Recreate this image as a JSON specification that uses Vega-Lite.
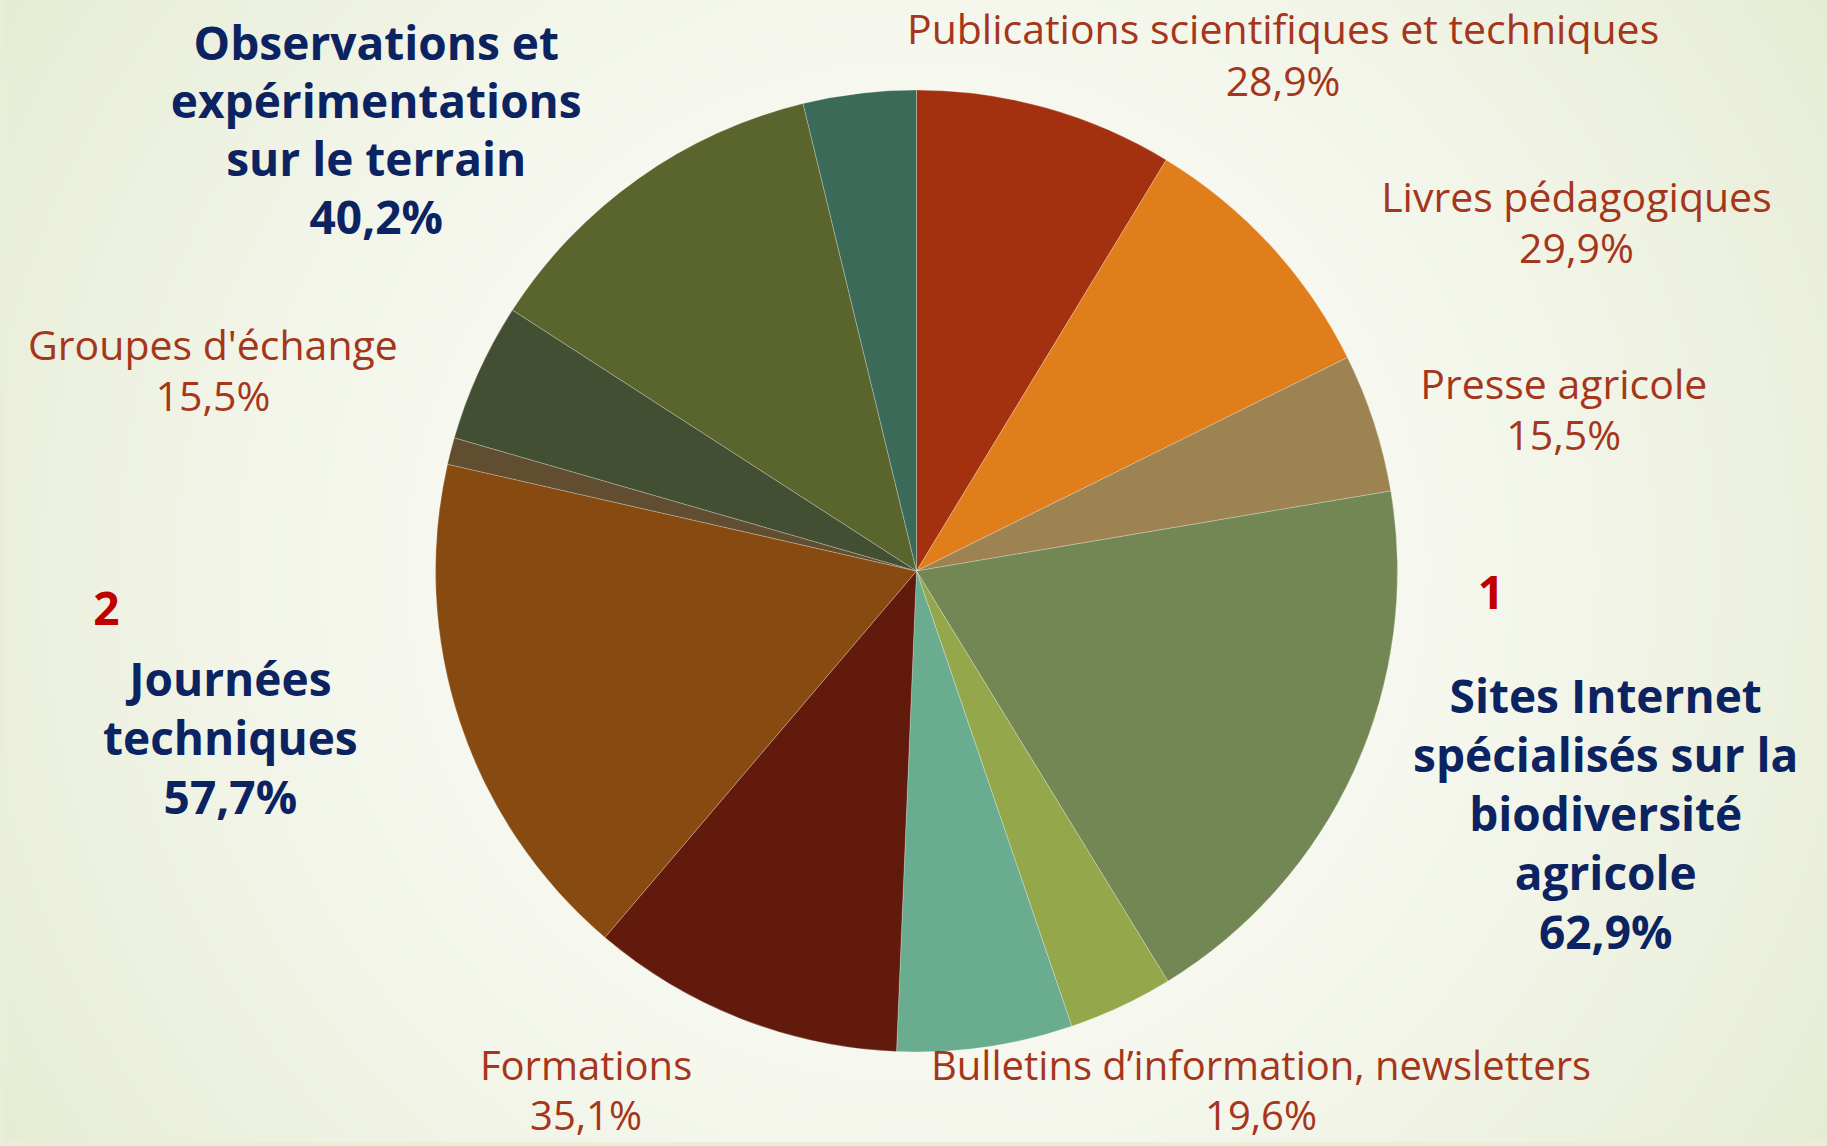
{
  "$schema": "https://vega.github.io/schema/vega-lite/v6.json",
  "width": 1821,
  "height": 1142,
  "autosize": {"type": "none"},
  "padding": {"left": 6, "top": 0, "right": 0, "bottom": 4},
  "background": "#E9EED8",
  "config": {"view": {"stroke": null}},
  "data": {
    "values": [
      {"idx": 1, "cat": "Publications scientifiques et techniques", "value": 28.9, "label": "Publications scientifiques et techniques\n28,9%", "rank": ""},
      {"idx": 2, "cat": "Livres pédagogiques", "value": 29.9, "label": "Livres pédagogiques\n29,9%", "rank": ""},
      {"idx": 3, "cat": "Presse agricole", "value": 15.5, "label": "Presse agricole\n15,5%", "rank": ""},
      {"idx": 4, "cat": "Sites Internet spécialisés sur la biodiversité agricole", "value": 62.9, "label": "Sites Internet\nspécialisés sur la\nbiodiversité\nagricole\n62,9%", "rank": "1"},
      {"idx": 5, "cat": "Non étiqueté 1", "value": 11.7, "label": "", "rank": ""},
      {"idx": 6, "cat": "Bulletins d’information, newsletters", "value": 19.6, "label": "Bulletins d’information, newsletters\n19,6%", "rank": ""},
      {"idx": 7, "cat": "Formations", "value": 35.1, "label": "Formations\n35,1%", "rank": ""},
      {"idx": 8, "cat": "Journées techniques", "value": 57.7, "label": "Journées\ntechniques\n57,7%", "rank": "2"},
      {"idx": 9, "cat": "Non étiqueté 2", "value": 3.0, "label": "", "rank": ""},
      {"idx": 10, "cat": "Groupes d'échange", "value": 15.5, "label": "Groupes d'échange\n15,5%", "rank": ""},
      {"idx": 11, "cat": "Observations et expérimentations sur le terrain", "value": 40.2, "label": "Observations et\nexpérimentations\nsur le terrain\n40,2%", "rank": ""},
      {"idx": 12, "cat": "Non étiqueté 3", "value": 12.6, "label": "", "rank": ""}
    ]
  },
  "layer": [
    {
      "data": {"values": [{}]},
      "mark": {
        "type": "rect",
        "color": {
          "gradient": "radial",
          "x1": 0.5, "y1": 0.5, "r1": 0,
          "x2": 0.5, "y2": 0.5, "r2": 0.62,
          "stops": [
            {"offset": 0, "color": "#FAFBF7"},
            {"offset": 0.45, "color": "#F6F8EF"},
            {"offset": 0.75, "color": "#EDF1E0"},
            {"offset": 1, "color": "#E5EBD1"}
          ]
        }
      },
      "encoding": {
        "x": {"value": 0},
        "x2": {"value": "width"},
        "y": {"value": 0},
        "y2": {"value": "height"}
      }
    },
    {
      "mark": {"type": "arc", "radius": 481, "stroke": "#FFFFFF", "strokeWidth": 0.7, "strokeOpacity": 0.35},
      "encoding": {
        "theta": {"field": "value", "type": "quantitative", "stack": true},
        "order": {"field": "idx", "type": "quantitative"},
        "color": {
          "field": "cat", "type": "nominal", "legend": null,
          "scale": {
            "domain": ["Publications scientifiques et techniques", "Livres pédagogiques", "Presse agricole", "Sites Internet spécialisés sur la biodiversité agricole", "Non étiqueté 1", "Bulletins d’information, newsletters", "Formations", "Journées techniques", "Non étiqueté 2", "Groupes d'échange", "Observations et expérimentations sur le terrain", "Non étiqueté 3"],
            "range": ["#A3300F", "#DF7E1A", "#9E8352", "#728754", "#94A84B", "#6AAC90", "#621A0C", "#874A10", "#614E31", "#434F32", "#5A652E", "#3B6A58"]
          }
        }
      }
    },
    {
      "mark": {"type": "text", "radius": 652, "thetaOffset": 0.3241, "align": "center", "baseline": "middle", "lineBreak": "\n", "font": "Open Sans", "fontSize": 41, "lineHeight": 52, "color": "#A5361B"},
      "encoding": {
        "theta": {"field": "value", "type": "quantitative", "stack": true},
        "order": {"field": "idx", "type": "quantitative"},
        "detail": {"field": "cat", "type": "nominal"},
        "text": {"condition": {"test": "datum.idx == 1", "field": "label", "type": "nominal"}, "value": ""}
      }
    },
    {
      "mark": {"type": "text", "radius": 757, "thetaOffset": 0.2304, "align": "center", "baseline": "middle", "lineBreak": "\n", "font": "Open Sans", "fontSize": 41, "lineHeight": 51, "color": "#A5361B"},
      "encoding": {
        "theta": {"field": "value", "type": "quantitative", "stack": true},
        "order": {"field": "idx", "type": "quantitative"},
        "detail": {"field": "cat", "type": "nominal"},
        "text": {"condition": {"test": "datum.idx == 2", "field": "label", "type": "nominal"}, "value": ""}
      }
    },
    {
      "mark": {"type": "text", "radius": 673, "thetaOffset": 0.0361, "align": "center", "baseline": "middle", "lineBreak": "\n", "font": "Open Sans", "fontSize": 41, "lineHeight": 51, "color": "#A5361B"},
      "encoding": {
        "theta": {"field": "value", "type": "quantitative", "stack": true},
        "order": {"field": "idx", "type": "quantitative"},
        "detail": {"field": "cat", "type": "nominal"},
        "text": {"condition": {"test": "datum.idx == 3", "field": "label", "type": "nominal"}, "value": ""}
      }
    },
    {
      "mark": {"type": "text", "radius": 701, "thetaOffset": -0.2433, "align": "center", "baseline": "middle", "lineBreak": "\n", "font": "Open Sans", "fontSize": 46, "fontWeight": "bold", "lineHeight": 59, "color": "#0C2361"},
      "encoding": {
        "theta": {"field": "value", "type": "quantitative", "stack": true},
        "order": {"field": "idx", "type": "quantitative"},
        "detail": {"field": "cat", "type": "nominal"},
        "text": {"condition": {"test": "datum.idx == 4", "field": "label", "type": "nominal"}, "value": ""}
      }
    },
    {
      "mark": {"type": "text", "radius": 605, "thetaOffset": -0.4623, "align": "center", "baseline": "middle", "lineBreak": "\n", "font": "Open Sans", "fontSize": 40, "lineHeight": 50, "color": "#A5361B"},
      "encoding": {
        "theta": {"field": "value", "type": "quantitative", "stack": true},
        "order": {"field": "idx", "type": "quantitative"},
        "detail": {"field": "cat", "type": "nominal"},
        "text": {"condition": {"test": "datum.idx == 6", "field": "label", "type": "nominal"}, "value": ""}
      }
    },
    {
      "mark": {"type": "text", "radius": 597, "thetaOffset": 0.2135, "align": "center", "baseline": "middle", "lineBreak": "\n", "font": "Open Sans", "fontSize": 40, "lineHeight": 50, "color": "#A5361B"},
      "encoding": {
        "theta": {"field": "value", "type": "quantitative", "stack": true},
        "order": {"field": "idx", "type": "quantitative"},
        "detail": {"field": "cat", "type": "nominal"},
        "text": {"condition": {"test": "datum.idx == 7", "field": "label", "type": "nominal"}, "value": ""}
      }
    },
    {
      "mark": {"type": "text", "radius": 695, "thetaOffset": 0.1614, "align": "center", "baseline": "middle", "lineBreak": "\n", "font": "Open Sans", "fontSize": 46, "fontWeight": "bold", "lineHeight": 59, "color": "#0C2361"},
      "encoding": {
        "theta": {"field": "value", "type": "quantitative", "stack": true},
        "order": {"field": "idx", "type": "quantitative"},
        "detail": {"field": "cat", "type": "nominal"},
        "text": {"condition": {"test": "datum.idx == 8", "field": "label", "type": "nominal"}, "value": ""}
      }
    },
    {
      "mark": {"type": "text", "radius": 738, "thetaOffset": -0.1203, "align": "center", "baseline": "middle", "lineBreak": "\n", "font": "Open Sans", "fontSize": 41, "lineHeight": 51, "color": "#A5361B"},
      "encoding": {
        "theta": {"field": "value", "type": "quantitative", "stack": true},
        "order": {"field": "idx", "type": "quantitative"},
        "detail": {"field": "cat", "type": "nominal"},
        "text": {"condition": {"test": "datum.idx == 10", "field": "label", "type": "nominal"}, "value": ""}
      }
    },
    {
      "mark": {"type": "text", "radius": 753, "thetaOffset": -0.1824, "align": "center", "baseline": "middle", "lineBreak": "\n", "font": "Open Sans", "fontSize": 46, "fontWeight": "bold", "lineHeight": 58, "color": "#0C2361"},
      "encoding": {
        "theta": {"field": "value", "type": "quantitative", "stack": true},
        "order": {"field": "idx", "type": "quantitative"},
        "detail": {"field": "cat", "type": "nominal"},
        "text": {"condition": {"test": "datum.idx == 11", "field": "label", "type": "nominal"}, "value": ""}
      }
    },
    {
      "mark": {"type": "text", "radius": 575, "thetaOffset": -0.3847, "align": "center", "baseline": "middle", "font": "Open Sans", "fontSize": 46, "fontWeight": "bold", "color": "#C00000"},
      "encoding": {
        "theta": {"field": "value", "type": "quantitative", "stack": true},
        "order": {"field": "idx", "type": "quantitative"},
        "detail": {"field": "cat", "type": "nominal"},
        "text": {"condition": {"test": "datum.idx == 4", "field": "rank", "type": "nominal"}, "value": ""}
      }
    },
    {
      "mark": {"type": "text", "radius": 811, "thetaOffset": 0.2720, "align": "center", "baseline": "middle", "font": "Open Sans", "fontSize": 46, "fontWeight": "bold", "color": "#C00000"},
      "encoding": {
        "theta": {"field": "value", "type": "quantitative", "stack": true},
        "order": {"field": "idx", "type": "quantitative"},
        "detail": {"field": "cat", "type": "nominal"},
        "text": {"condition": {"test": "datum.idx == 8", "field": "rank", "type": "nominal"}, "value": ""}
      }
    }
  ]
}
